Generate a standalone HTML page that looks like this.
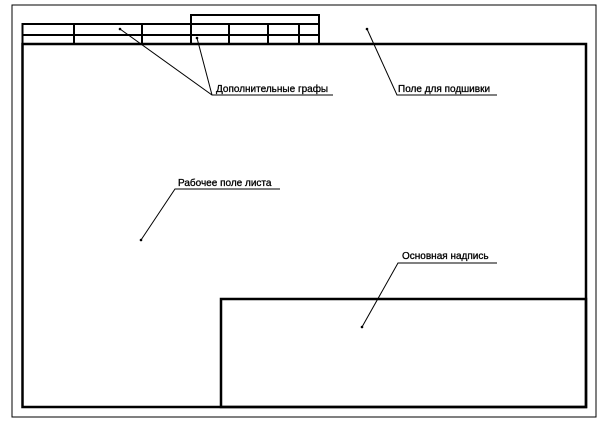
<!DOCTYPE html>
<html><head><meta charset="utf-8"><style>
html,body{margin:0;padding:0;background:#fff;width:610px;height:426px;overflow:hidden}
svg{display:block}
text{font-family:"Liberation Sans",sans-serif;font-size:10px;fill:#000;stroke:#000;stroke-width:0.3}
</style></head><body>
<svg width="610" height="426" viewBox="0 0 610 426">
<rect x="12" y="5" width="584" height="412" fill="none" stroke="#000" stroke-width="1"/>
<rect x="22.5" y="44" width="563.5" height="363" fill="none" stroke="#000" stroke-width="2.5"/>
<rect x="221" y="299" width="365" height="108" fill="none" stroke="#000" stroke-width="2.5"/>
<g fill="none" stroke="#000" stroke-width="2">
<rect x="22.5" y="24" width="296.5" height="20"/>
<rect x="191" y="15" width="128" height="9"/>
<line x1="22.5" y1="35" x2="319" y2="35"/>
<line x1="74" y1="24" x2="74" y2="44"/>
<line x1="142" y1="24" x2="142" y2="44"/>
<line x1="191" y1="24" x2="191" y2="44"/>
<line x1="229" y1="24" x2="229" y2="44"/>
<line x1="268" y1="24" x2="268" y2="44"/>
<line x1="299" y1="24" x2="299" y2="44"/>
</g>
<g stroke="#000" stroke-width="1" fill="none">
<polyline points="120,29 212,95 333,95"/>
<line x1="197" y1="38" x2="212" y2="95"/>
<polyline points="367,29 397,95 497,95"/>
<polyline points="141,240 175,189 280,189"/>
<polyline points="362,327 398,263 497,263"/>
</g>
<g fill="#000">
<circle cx="120" cy="29" r="1.3"/><circle cx="197" cy="38" r="1.3"/>
<circle cx="367" cy="29" r="1.3"/><circle cx="141" cy="240" r="1.3"/>
<circle cx="362" cy="327" r="1.3"/>
</g>
<text x="216" y="92">Дополнительные графы</text>
<text x="398" y="92">Поле для подшивки</text>
<text x="178" y="186">Рабочее поле листа</text>
<text x="402" y="259">Основная надпись</text>
</svg>
</body></html>
